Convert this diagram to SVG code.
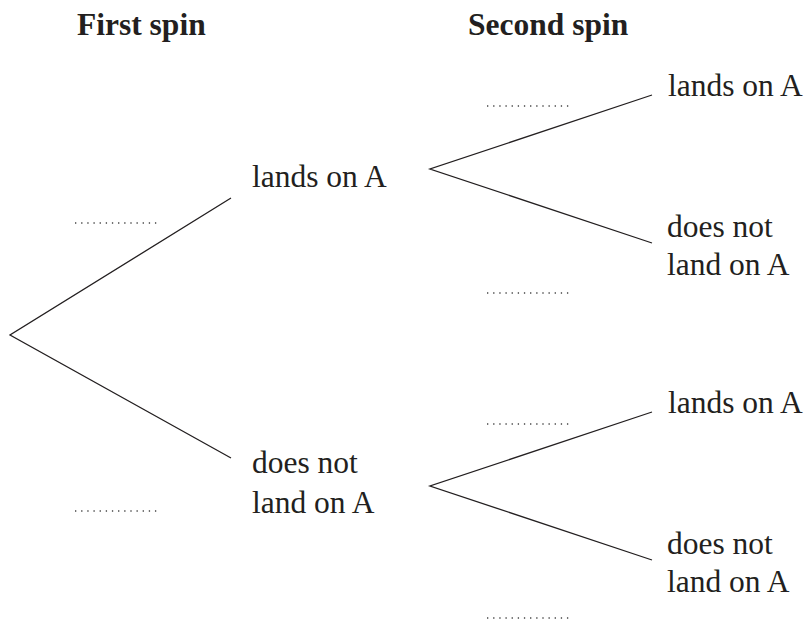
<svg xmlns="http://www.w3.org/2000/svg" width="811" height="630" viewBox="0 0 811 630">
<style>
.hd{font-weight:bold;font-size:31.5px;fill:#231f20}
.lb{font-size:31.5px;fill:#231f20}
.br{fill:none;stroke:#231f20;stroke-width:1.3}
.dot{stroke:#444;stroke-width:1.3;stroke-dasharray:1.3 4.85}
</style>
<rect width="811" height="630" fill="#fff"/>
<g font-family="Liberation Serif, DejaVu Serif, serif">
<g id="headers">
<text class="hd" x="77" y="35">First spin</text>
<text class="hd" x="468" y="35">Second spin</text>
</g>
<g id="n1"><text class="lb" x="252" y="187">lands on A</text></g>
<g id="n2"><text class="lb" x="252" y="473">does not</text><text class="lb" x="252" y="513">land on A</text></g>
<g id="n3"><text class="lb" x="668" y="96">lands on A</text></g>
<g id="n4"><text class="lb" x="667" y="237">does not</text><text class="lb" x="667" y="275">land on A</text></g>
<g id="n5"><text class="lb" x="668" y="413">lands on A</text></g>
<g id="n6"><text class="lb" x="667" y="554">does not</text><text class="lb" x="667" y="592">land on A</text></g>
</g>
<g id="connectors">
<path class="br" d="M231,198 L10,335 L231,458"/>
<path class="br" d="M652,95 L430,169 L652,243"/>
<path class="br" d="M652,412 L430,486 L652,560"/>
</g>
<g id="blanks">
<line class="dot" x1="75" y1="223" x2="157" y2="223"/>
<line class="dot" x1="75" y1="511" x2="157" y2="511"/>
<line class="dot" x1="487" y1="106" x2="569" y2="106"/>
<line class="dot" x1="487" y1="293" x2="569" y2="293"/>
<line class="dot" x1="487" y1="424" x2="569" y2="424"/>
<line class="dot" x1="487" y1="618" x2="569" y2="618"/>
</g>
</svg>
